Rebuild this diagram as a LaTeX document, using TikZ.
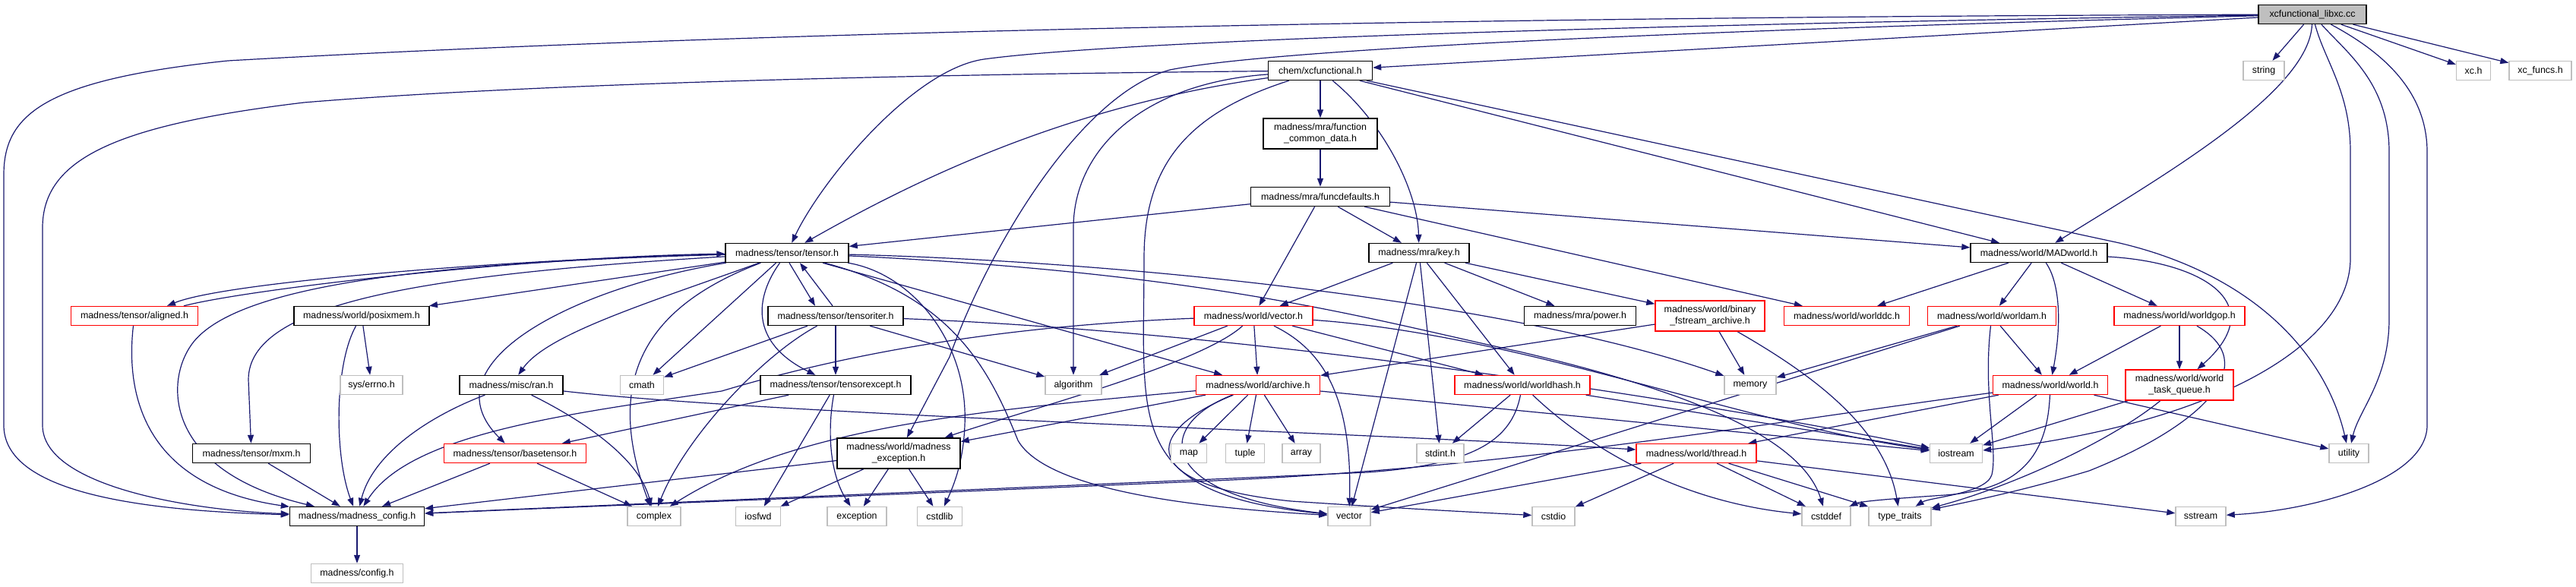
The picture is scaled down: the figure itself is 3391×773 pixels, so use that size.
\documentclass[tikz,border=0pt]{standalone}
\usepackage{fontspec}
\setmainfont{Liberation Sans}
\usetikzlibrary{arrows.meta}
\definecolor{edgeblue}{HTML}{191970}
\definecolor{lgray}{HTML}{BFBFBF}
\newcommand\nodefont{\fontsize{12.4}{15}\selectfont}
\pgfdeclarelayer{bgl}
\pgfdeclarelayer{edgel}
\pgfsetlayers{bgl,edgel,main}
\tikzset{
  box/.style={draw=black, line width=1.4pt, fill=white, minimum height=25pt, inner xsep=3pt, inner ysep=2pt, font=\nodefont, align=center},
  redbox/.style={box, draw=red},
  sysbox/.style={box, draw=lgray},
  rootbox/.style={box, fill=lgray},
  tall/.style={minimum height=40pt},
  e/.style={draw=edgeblue, line width=1.2pt, -{Triangle[length=11pt,width=8pt]}},
}
\begin{document}
\begin{tikzpicture}[x=1pt,y=-1pt]
\begin{pgfonlayer}{bgl}
\fill[white] (0,0) rectangle (3391,773);
\end{pgfonlayer}
\useasboundingbox (0,0) rectangle (3391,773);
% row 0
\node[rootbox, minimum width=142pt] (R) at (3044,19) {xcfunctional\_libxc.cc};
% row 1
\node[box, minimum width=137pt] (XF) at (1738,93) {chem/xcfunctional.h};
\node[sysbox, minimum width=54pt] (STR) at (2980,93) {string};
\node[sysbox, minimum width=45pt] (XCH) at (3256,93) {xc.h};
\node[sysbox, minimum width=82pt] (XCF) at (3344,93) {xc\_funcs.h};
% row 2
\node[box, tall, minimum width=150pt] (FCD) at (1738,176) {madness/mra/function\\\_common\_data.h};
% row 3
\node[box, minimum width=183pt] (FD) at (1738,259) {madness/mra/funcdefaults.h};
% row 4
\node[box, minimum width=162pt] (TEN) at (1036,333) {madness/tensor/tensor.h};
\node[box, minimum width=132pt] (KEY) at (1868,333) {madness/mra/key.h};
\node[box, minimum width=180pt] (MAD) at (2684,333) {madness/world/MADworld.h};
% row 5
\node[redbox, minimum width=167pt] (ALI) at (177,416) {madness/tensor/aligned.h};
\node[box, minimum width=178pt] (POS) at (476,416) {madness/world/posixmem.h};
\node[box, minimum width=178pt] (TIT) at (1100,416) {madness/tensor/tensoriter.h};
\node[redbox, minimum width=156pt] (VEC) at (1650,416) {madness/world/vector.h};
\node[box, minimum width=147pt] (POW) at (2080,416) {madness/mra/power.h};
\node[redbox, tall, minimum width=144pt] (BFA) at (2251,416) {madness/world/binary\\\_fstream\_archive.h};
\node[redbox, minimum width=165pt] (WDC) at (2431,416) {madness/world/worlddc.h};
\node[redbox, minimum width=169pt] (WAM) at (2622,416) {madness/world/worldam.h};
\node[redbox, minimum width=172pt] (WGOP) at (2869,416) {madness/world/worldgop.h};
% row 6
\node[sysbox, minimum width=82pt] (ERR) at (489,507) {sys/errno.h};
\node[box, minimum width=136pt] (RAN) at (673,507) {madness/misc/ran.h};
\node[sysbox, minimum width=57pt] (CMATH) at (845,507) {cmath};
\node[box, minimum width=198pt] (TEX) at (1100,507) {madness/tensor/tensorexcept.h};
\node[sysbox, minimum width=74pt] (ALG) at (1413,507) {algorithm};
\node[redbox, minimum width=163pt] (ARC) at (1656,507) {madness/world/archive.h};
\node[redbox, minimum width=178pt] (WHASH) at (2004,507) {madness/world/worldhash.h};
\node[sysbox, minimum width=68pt] (MEM) at (2304,507) {memory};
\node[redbox, minimum width=151pt] (WORLD) at (2699,507) {madness/world/world.h};
\node[redbox, tall, minimum width=142pt] (WTQ) at (2869,507) {madness/world/world\\\_task\_queue.h};
% row 7
\node[box, minimum width=155pt] (MXM) at (331,597) {madness/tensor/mxm.h};
\node[redbox, minimum width=187pt] (BT) at (678,597) {madness/tensor/basetensor.h};
\node[box, tall, minimum width=162pt] (MEX) at (1183,597) {madness/world/madness\\\_exception.h};
\node[sysbox, minimum width=47pt] (MAP) at (1565,597) {map};
\node[sysbox, minimum width=51pt] (TUP) at (1639,597) {tuple};
\node[sysbox, minimum width=50pt] (ARR) at (1713,597) {array};
\node[sysbox, minimum width=62pt] (STDINT) at (1896,597) {stdint.h};
\node[redbox, minimum width=158pt] (THR) at (2233,597) {madness/world/thread.h};
\node[sysbox, minimum width=69pt] (IOS) at (2575,597) {iostream};
\node[sysbox, minimum width=52pt] (UTIL) at (3092,597) {utility};
% row 8
\node[box, minimum width=177pt] (MC) at (470,680) {madness/madness\_config.h};
\node[sysbox, minimum width=70pt] (CPLX) at (861,680) {complex};
\node[sysbox, minimum width=59pt] (IOSFWD) at (998,680) {iosfwd};
\node[sysbox, minimum width=78pt] (EXC) at (1128,680) {exception};
\node[sysbox, minimum width=59pt] (CSTDLIB) at (1237,680) {cstdlib};
\node[sysbox, minimum width=56pt] (VECT) at (1776,680) {vector};
\node[sysbox, minimum width=56pt] (CSTDIO) at (2045,680) {cstdio};
\node[sysbox, minimum width=64pt] (CSTDDEF) at (2404,680) {cstddef};
\node[sysbox, minimum width=82pt] (TT) at (2501,680) {type\_traits};
\node[sysbox, minimum width=66pt] (SST) at (2897,680) {sstream};
% row 9
\node[sysbox, minimum width=121pt] (CFG) at (470,755) {madness/config.h};

\begin{pgfonlayer}{edgel}
% root
\draw[e] (R) -- (XF);
\draw[e] (R) -- (STR);
\draw[e] (R) -- (XCH);
\draw[e] (R) -- (XCF);
\draw[e] (R) .. controls (3040,120) and (2850,230) .. (MAD);
\draw[e] (R) .. controls (2300,30) and (1500,50) .. (1295,78) .. controls (1200,92) and (1080,240) .. (TEN);
\draw[e] (R) .. controls (2000,22) and (1000,40) .. (300,80) .. controls (60,105) and (5,150) .. (5,230) -- (5,560) .. controls (5,640) and (150,672) .. (MC);
\draw[e] (R) .. controls (2400,35) and (1700,60) .. (1540,92) .. controls (1420,125) and (1300,330) .. (1250,470) -- (MEX);
\draw[e] (R) .. controls (3060,80) and (3094,120) .. (3094,200) -- (3094,340) .. controls (3094,460) and (2900,560) .. (IOS);
\draw[e] (R) .. controls (3090,70) and (3145,110) .. (3145,200) -- (3145,420) .. controls (3145,500) and (3105,540) .. (UTIL);
\draw[e] (R) .. controls (3120,60) and (3195,110) .. (3195,200) -- (3195,560) .. controls (3195,630) and (3050,672) .. (SST);
% chem/xcfunctional.h
\draw[e] (XF) .. controls (1200,98) and (700,110) .. (400,135) .. controls (150,165) and (56,210) .. (56,300) -- (56,560) .. controls (56,640) and (250,672) .. (MC);
\draw[e] (XF) .. controls (1400,140) and (1200,240) .. (TEN);
\draw[e] (XF) .. controls (1500,110) and (1413,200) .. (1413,300) -- (ALG);
\draw[e] (XF) .. controls (1560,150) and (1506,220) .. (1506,340) .. controls (1506,560) and (1480,650) .. (VECT);
\draw[e] (XF) -- (FCD);
\draw[e] (XF) .. controls (1820,160) and (1866,250) .. (KEY);
\draw[e] (XF) -- (MAD);
\draw[e] (XF) -- (2790,320) .. controls (2960,360) and (3060,460) .. (UTIL);
\draw[e] (FCD) -- (FD);
% funcdefaults
\draw[e] (FD) -- (TEN);
\draw[e] (FD) -- (VEC);
\draw[e] (FD) -- (KEY);
\draw[e] (FD) -- (WDC);
\draw[e] (FD) -- (MAD);
% tensor.h
\draw[e] (TEN) .. controls (700,340) and (300,370) .. ([xshift=43pt]ALI.north);
\draw[e] ([xshift=65pt]ALI.north) .. controls (330,380) and (700,338) .. (TEN);
\draw[e] (TEN) .. controls (600,345) and (320,370) .. (255,450) .. controls (215,500) and (215,620) .. (MC);
\draw[e] (TEN) .. controls (550,362) and (327,400) .. (327,500) -- (MXM);
\draw[e] (TEN) -- (POS);
\draw[e] ([xshift=3pt]TEN.south) -- ([xshift=-27pt]TIT.north);
\draw[e] ([xshift=-4pt]TIT.north) -- ([xshift=17pt]TEN.south);
\draw[e] (TEN) .. controls (995,390) and (985,450) .. (TEX);
\draw[e] (TEN) .. controls (750,380) and (560,480) .. (BT);
\draw[e] (TEN) .. controls (850,400) and (720,440) .. (RAN);
\draw[e] (TEN) -- (CMATH);
\draw[e] (TEN) .. controls (860,400) and (790,490) .. (CPLX);
\draw[e] (TEN) .. controls (1200,360) and (1275,450) .. (1270,560) .. controls (1268,610) and (1255,640) .. (CSTDLIB);
\draw[e] (TEN) .. controls (1250,390) and (1300,480) .. (1340,580) .. controls (1380,650) and (1600,670) .. (VECT);
\draw[e] (TEN) -- (ARC);
\draw[e] (TEN) .. controls (1500,345) and (2000,400) .. (MEM);
\draw[e] (TEN) .. controls (1600,360) and (1800,420) .. (2000,463) .. controls (2200,510) and (2370,570) .. (CSTDDEF);
% tensoriter
\draw[e] (TIT) -- (TEX);
\draw[e] (TIT) -- (ALG);
\draw[e] (TIT) -- (CMATH);
\draw[e] (TIT) .. controls (1000,470) and (900,580) .. (CPLX);
\draw[e] (TIT) .. controls (1700,440) and (2300,540) .. (IOS);
% tensorexcept
\draw[e] (TEX) -- (BT);
\draw[e] (TEX) -- (IOSFWD);
\draw[e] (TEX) .. controls (1090,560) and (1090,620) .. (EXC);
% ran
\draw[e] (RAN) .. controls (560,550) and (490,600) .. (MC);
\draw[e] (RAN) .. controls (760,550) and (840,600) .. (CPLX);
\draw[e] (RAN) .. controls (1000,545) and (1800,570) .. (THR);
% small ones
\draw[e] (MXM) -- (MC);
\draw[e] (BT) -- (MC);
\draw[e] (BT) -- (CPLX);
\draw[e] (POS) -- (ERR);
\draw[e] (POS) .. controls (440,480) and (440,600) .. (MC);
\draw[e] (ALI) .. controls (165,520) and (190,640) .. (MC);
\draw[e] (MC) -- (CFG);
% madness_exception
\draw[e] (MEX) -- (MC);
\draw[e] (MEX) -- (IOSFWD);
\draw[e] (MEX) -- (EXC);
\draw[e] (MEX) -- (CSTDLIB);
% vector.h
\draw[e] (VEC) -- (ALG);
\draw[e] (VEC) -- (ARC);
\draw[e] (VEC) .. controls (1580,480) and (1350,540) .. (MEX);
\draw[e] (VEC) .. controls (1740,460) and (1780,520) .. (VECT);
\draw[e] (VEC) -- (WHASH);
\draw[e] (VEC) .. controls (1300,430) and (1100,470) .. (950,515) .. controls (750,545) and (540,570) .. (MC);
\draw[e] (VEC) .. controls (2000,440) and (2300,560) .. (IOS);
% key.h
\draw[e] (KEY) -- (VEC);
\draw[e] (KEY) -- (VECT);
\draw[e] (KEY) -- (STDINT);
\draw[e] (KEY) -- (WHASH);
\draw[e] (KEY) -- (POW);
\draw[e] (KEY) -- (BFA);
% MADworld
\draw[e] (MAD) -- (WDC);
\draw[e] (MAD) -- (WAM);
\draw[e] (MAD) -- (WGOP);
\draw[e] (MAD) .. controls (2710,370) and (2715,420) .. (WORLD);
\draw[e] (MAD) .. controls (2900,345) and (2990,400) .. (WTQ);
% worldam
\draw[e] (WAM) -- (MEM);
\draw[e] (WAM) -- (WORLD);
\draw[e] (WAM) -- (VECT);
\draw[e] (WAM) .. controls (2610,520) and (2630,590) .. (2622,625) .. controls (2615,650) and (2540,655) .. (TT);
% world
\draw[e] (WORLD) -- (IOS);
\draw[e] (WORLD) -- (THR);
\draw[e] (WORLD) -- (UTIL);
\draw[e] (WORLD) .. controls (2300,560) and (2000,615) .. (1600,633) -- (1200,650) .. controls (900,662) and (700,670) .. (MC);
\draw[e] (WORLD) .. controls (2695,600) and (2660,645) .. (2560,652) .. controls (2500,656) and (2450,660) .. (CSTDDEF);
% worldgop
\draw[e] (WGOP) -- (WORLD);
\draw[e] (WGOP) -- (WTQ);
\draw[e] (WGOP) .. controls (2980,480) and (2900,560) .. (2750,620) .. controls (2650,650) and (2570,665) .. (TT);
% world_task_queue
\draw[e] (WTQ) -- (IOS);
\draw[e] (WTQ) .. controls (2780,580) and (2650,640) .. (TT);
% thread
\draw[e] (THR) -- (VECT);
\draw[e] (THR) -- (CSTDIO);
\draw[e] (THR) -- (CSTDDEF);
\draw[e] (THR) -- (TT);
\draw[e] (THR) -- (SST);
% binary_fstream_archive
\draw[e] (BFA) -- (ARC);
\draw[e] (BFA) -- (MEM);
\draw[e] (BFA) .. controls (2380,490) and (2480,560) .. (TT);
% worldhash
\draw[e] (WHASH) -- (STDINT);
\draw[e] (WHASH) .. controls (1990,580) and (1940,612) .. (1800,622) .. controls (1400,640) and (800,665) .. (MC);
\draw[e] (WHASH) .. controls (2080,580) and (2200,660) .. (CSTDDEF);
\draw[e] (WHASH) -- (IOS);
% archive
\draw[e] (ARC) -- (MEX);
\draw[e] (ARC) .. controls (1300,540) and (1050,560) .. (CPLX);
\draw[e] (ARC) -- (MAP);
\draw[e] (ARC) -- (TUP);
\draw[e] (ARC) -- (ARR);
\draw[e] (ARC) .. controls (1520,560) and (1520,650) .. (VECT);
\draw[e] (ARC) .. controls (1500,570) and (1500,640) .. (1700,660) .. controls (1850,670) and (1950,675) .. (CSTDIO);
\draw[e] (ARC) -- (IOS);
\end{pgfonlayer}
\end{tikzpicture}
\end{document}
